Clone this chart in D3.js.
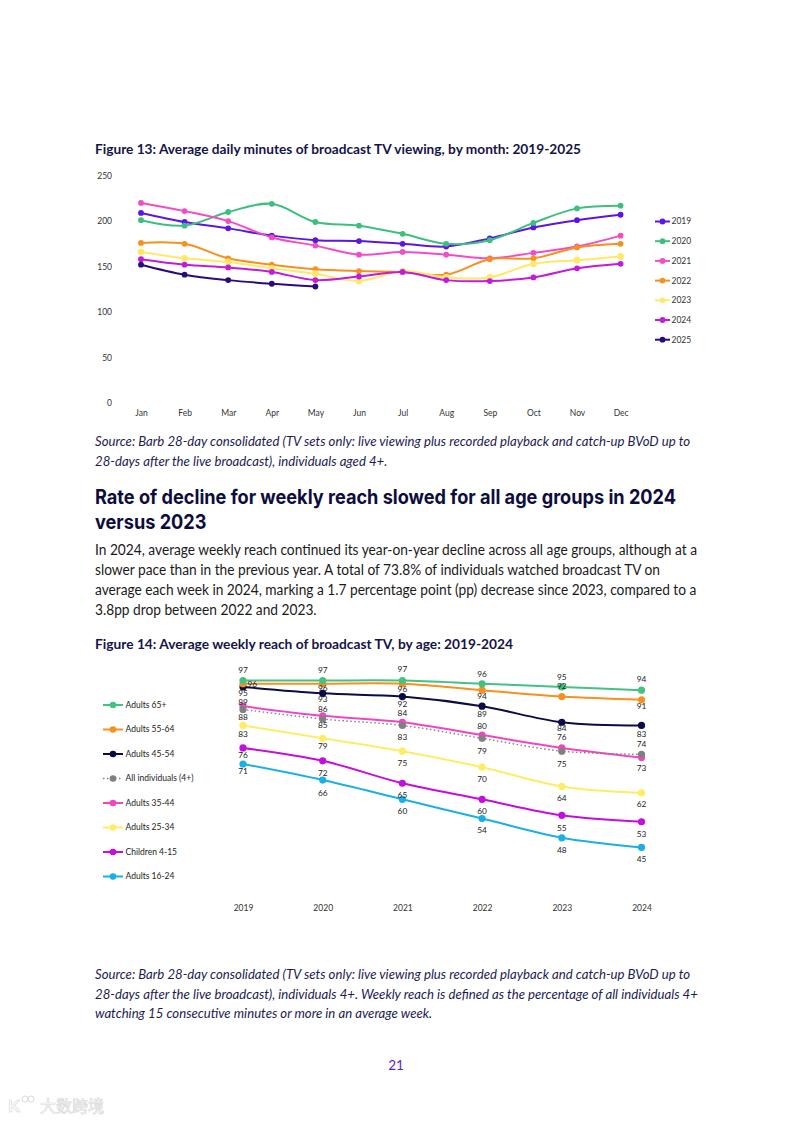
<!DOCTYPE html>
<html>
<head>
<meta charset="utf-8">
<script src="https://cdn.jsdelivr.net/npm/d3@7"></script>
<style>
  body { margin: 0; background: #fff; }
  svg { display: block; }
  .axis text { font-family: Lato, "Open Sans", sans-serif; fill: #333; }
</style>
</head>
<body>
<div id="page"></div>
<script>
// figure 13 data - average daily minutes, by month
const months = ['Jan','Feb','Mar','Apr','May','Jun','Jul','Aug','Sep','Oct','Nov','Dec'];
const viewYears = ['2019','2020','2021','2022','2023','2024','2025'];
const minutes2019 = [209,199,192,184,179,178,175,172,181,193,201,207];
const minutes2020 = [201,195,210,219,199,195,186,175,179,198,214,217];
const minutes2021 = [220,211,200,182,173,163,166,163,159,165,172,184];
const minutes2022 = [176,175,159,152,147,145,144,141,158,159,171,175];
const minutes2023 = [166,159,155,148,142,134,145,138,138,153,157,161];
const minutes2024 = [158,152,149,144,135,139,144,135,134,138,148,153];
const minutes2025 = [152,141,135,131,128];
const minuteTicks = [0,50,100,150,200,250];

// figure 14 data - weekly reach (%) by age
const reachYears = ['2019','2020','2021','2022','2023','2024'];
const ageGroups = ['Adults 65+','Adults 55-64','Adults 45-54','All individuals (4+)','Adults 35-44','Adults 25-34','Children 4-15','Adults 16-24'];
const reach65plus   = [97,97,97,96,95,94];
const reach55to64   = [96,96,96,94,92,91];
const reach45to54   = [95,93,92,89,84,83];
const reachAll      = [88,85,83,79,75,74];
const reach35to44   = [89,86,84,80,76,73];
const reach25to34   = [83,79,75,70,64,62];
const reachChildren = [76,72,65,60,55,53];
const reach16to24   = [71,66,60,54,48,45];

const viewColors = ['#5b16e3','#3dbf80','#f24dc6','#f7901e','#ffe96a','#c21ade','#2b0b7c'];
const ageColors  = ['#43c283','#f7901e','#0b0b45','#808080','#f245c5','#ffec63','#c50ddf','#1ab0e6'];

// label nudges (px) as excel placed them; null = label sits to the right of the point
const labelNudge = [
  [-10, -10, -11, -10, -10, -11],
  [null, 4.5, 5, 6, -10.5, 6.5],
  [6, 6, 7.5, 8, 5.5, 8.3],
  [7.3, 6, 11.7, 12.3, 12.7, -10.4],
  [-4, -7, -9, -9, -10.5, 11],
  [8.7, 8, 12.3, 12.3, 12, 11.7],
  [6.7, 12.3, 11.7, 12, 12.3, 12],
  [6.7, 12.7, 11.7, 12, 12, 11.7]
];

const W = 793, H = 1121;
const svg = d3.select('#page').append('svg')
    .attr('width', W).attr('height', H);
svg.append('rect').attr('width', W).attr('height', H).attr('fill', '#fff');

const bodyFont = 'Lato, "Open Sans", sans-serif';

// writes lines of text, squeezing them all by the same factor so the ref line hits opts.width
function textBlock(lines, x, y, lh, opts) {
    const g = svg.append('g')
        .attr('font-family', opts.family || bodyFont)
        .attr('font-size', opts.size)
        .attr('font-weight', opts.weight || 400)
        .attr('font-style', opts.style || 'normal')
        .attr('fill', opts.color);
    const nodes = lines.map((t, i) => g.append('text')
        .attr('x', x).attr('y', y + i * lh).attr('dy', '0.35em').text(t));
    const refW = nodes[opts.ref || 0].node().getComputedTextLength();
    const k = opts.width / refW;
    nodes.forEach(n => {
        const w = n.node().getComputedTextLength();
        n.attr('textLength', w * k).attr('lengthAdjust', 'spacingAndGlyphs');
    });
}

// ---------- text on the page ----------
textBlock(['Figure 13: Average daily minutes of broadcast TV viewing, by month: 2019-2025'],
    95, 149, 0, {size: 13.5, weight: 700, color: '#14144a', width: 486});

textBlock(['Source: Barb 28-day consolidated (TV sets only: live viewing plus recorded playback and catch-up BVoD up to',
           '28-days after the live broadcast), individuals aged 4+.'],
    95, 442, 19.5, {size: 12.5, style: 'italic', color: '#1b1b52', width: 595});

textBlock(['Rate of decline for weekly reach slowed for all age groups in 2024', 'versus 2023'],
    95, 497, 24.5, {family: 'Inter, "DejaVu Sans", sans-serif', size: 20, weight: 700, color: '#0d0d3d', width: 581});

textBlock(['In 2024, average weekly reach continued its year-on-year decline across all age groups, although at a',
           'slower pace than in the previous year. A total of 73.8% of individuals watched broadcast TV on',
           'average each week in 2024, marking a 1.7 percentage point (pp) decrease since 2023, compared to a',
           '3.8pp drop between 2022 and 2023.'],
    95, 549.5, 20, {size: 14.5, color: '#1a1a1a', width: 602});

textBlock(['Figure 14: Average weekly reach of broadcast TV, by age: 2019-2024'],
    95, 644, 0, {size: 13.5, weight: 700, color: '#14144a', width: 418});

textBlock(['Source: Barb 28-day consolidated (TV sets only: live viewing plus recorded playback and catch-up BVoD up to',
           '28-days after the live broadcast), individuals 4+. Weekly reach is defined as the percentage of all individuals 4+',
           'watching 15 consecutive minutes or more in an average week.'],
    95, 975, 19.5, {size: 12.5, style: 'italic', color: '#1b1b52', width: 595});

svg.append('text')
    .attr('x', 396).attr('y', 1065).attr('dy', '0.35em')
    .attr('text-anchor', 'middle')
    .attr('font-family', bodyFont).attr('font-size', 13.5)
    .attr('fill', '#5524d6')
    .text('21');

// faint watermark bottom left
const wm = svg.append('g').attr('opacity', 0.55);
wm.append('text').attr('x', 8).attr('y', 1112)
    .attr('font-family', 'Lato, sans-serif').attr('font-size', 17).attr('font-weight', 700)
    .attr('fill', '#fff').attr('stroke', '#bbb').attr('stroke-width', 0.7).text('K');
wm.append('circle').attr('cx', 25).attr('cy', 1099).attr('r', 3).attr('fill', 'none').attr('stroke', '#bbb');
wm.append('circle').attr('cx', 31).attr('cy', 1099).attr('r', 3).attr('fill', 'none').attr('stroke', '#bbb');
wm.append('text').attr('x', 40).attr('y', 1112)
    .attr('font-family', '"Noto Sans CJK SC", sans-serif').attr('font-size', 16)
    .attr('fill', '#fff').attr('stroke', '#bbb').attr('stroke-width', 0.7).text('大数跨境');

// ---------- figure 13 ----------
const viewSeries = [minutes2019, minutes2020, minutes2021, minutes2022, minutes2023, minutes2024, minutes2025];

const x13 = d3.scalePoint().domain(months).range([141, 620.6]);
const y13 = d3.scaleLinear().domain([0, 250]).range([402.7, 175.7]);

const fig13 = svg.append('g');

fig13.append('g')
    .attr('class', 'axis')
    .attr('transform', 'translate(116,0)')
    .call(d3.axisLeft(y13).tickValues(minuteTicks).tickSize(0).tickPadding(4))
    .call(g => g.select('.domain').remove())
    .selectAll('text').style('font-size', '8.5px');

fig13.append('g')
    .attr('class', 'axis')
    .attr('transform', 'translate(0,402.7)')
    .call(d3.axisBottom(x13).tickSize(0).tickPadding(7))
    .call(g => g.select('.domain').remove())
    .selectAll('text').style('font-size', '8.5px');

const line13 = d3.line()
    .x((d, i) => x13(months[i]))
    .y(d => y13(d))
    .curve(d3.curveCatmullRom.alpha(0.5));

viewSeries.forEach((vals, s) => {
    const g = fig13.append('g');
    g.append('path')
        .attr('d', line13(vals))
        .attr('fill', 'none')
        .attr('stroke', viewColors[s])
        .attr('stroke-width', 2);
    g.selectAll('circle')
        .data(vals)
        .enter().append('circle')
        .attr('cx', (d, i) => x13(months[i]))
        .attr('cy', d => y13(d))
        .attr('r', s == 4 ? 3.4 : 2.9)
        .attr('fill', viewColors[s]);
});

// legend
const leg13 = fig13.append('g');
viewYears.forEach((yr, i) => {
    const ly = 221.5 + i * 19.7;
    leg13.append('line').attr('x1', 655).attr('x2', 670).attr('y1', ly).attr('y2', ly)
        .attr('stroke', viewColors[i]).attr('stroke-width', 2);
    leg13.append('circle').attr('cx', 662.5).attr('cy', ly).attr('r', 2.9).attr('fill', viewColors[i]);
    leg13.append('text').attr('x', 671.5).attr('y', ly).attr('dy', '0.35em')
        .attr('font-family', bodyFont).attr('font-size', 8.5).attr('fill', '#333')
        .text(yr);
});

// ---------- figure 14 ----------
const reachSeries = [reach65plus, reach55to64, reach45to54, reachAll, reach35to44, reach25to34, reachChildren, reach16to24];

const x14 = d3.scalePoint().domain(reachYears).range([243, 641.5]);
const y14 = d3.scaleLinear().domain([30, 100]).range([895.6, 670.9]);

const fig14 = svg.append('g');

fig14.append('g')
    .attr('class', 'axis')
    .attr('transform', 'translate(0,895.6)')
    .call(d3.axisBottom(x14).tickSize(0).tickPadding(9))
    .call(g => g.select('.domain').remove())
    .selectAll('text').style('font-size', '8.5px');

const line14 = d3.line()
    .x((d, i) => x14(reachYears[i]))
    .y(d => y14(d))
    .curve(d3.curveCatmullRom.alpha(0.5));

// draw bottom groups first so the top lines sit over them
reachSeries.map((v, i) => i).reverse().forEach(s => {
    const vals = reachSeries[s];
    const g = fig14.append('g');
    g.append('path')
        .attr('d', line14(vals))
        .attr('fill', 'none')
        .attr('stroke', ageColors[s])
        .attr('stroke-width', s == 3 ? 1.4 : 2)
        .attr('stroke-dasharray', s == 3 ? '1.5,2.5' : null);
    g.selectAll('circle')
        .data(vals)
        .enter().append('circle')
        .attr('cx', (d, i) => x14(reachYears[i]))
        .attr('cy', d => y14(d))
        .attr('r', 3.6)
        .attr('fill', ageColors[s]);
});

// value labels
reachSeries.forEach((vals, s) => {
    fig14.append('g').selectAll('text')
        .data(vals)
        .enter().append('text')
        .attr('x', (d, i) => x14(reachYears[i]) + (labelNudge[s][i] === null ? 4.5 : 0))
        .attr('y', (d, i) => y14(d) + (labelNudge[s][i] || 0))
        .attr('dy', '0.35em')
        .attr('text-anchor', (d, i) => labelNudge[s][i] === null ? 'start' : 'middle')
        .attr('font-family', bodyFont).attr('font-size', 8.3).attr('fill', '#222')
        .text(d => d);
});

// legend
const leg14 = fig14.append('g');
ageGroups.forEach((name, i) => {
    const ly = 705 + i * 24.5;
    leg14.append('line').attr('x1', 103).attr('x2', 123).attr('y1', ly).attr('y2', ly)
        .attr('stroke', ageColors[i])
        .attr('stroke-width', i == 3 ? 1.4 : 2)
        .attr('stroke-dasharray', i == 3 ? '1.5,2.5' : null);
    leg14.append('circle').attr('cx', 113).attr('cy', ly).attr('r', 3.3).attr('fill', ageColors[i]);
    leg14.append('text').attr('x', 125.5).attr('y', ly).attr('dy', '0.35em')
        .attr('font-family', bodyFont).attr('font-size', 8.5).attr('fill', '#222')
        .text(name);
});
</script>
</body>
</html>
